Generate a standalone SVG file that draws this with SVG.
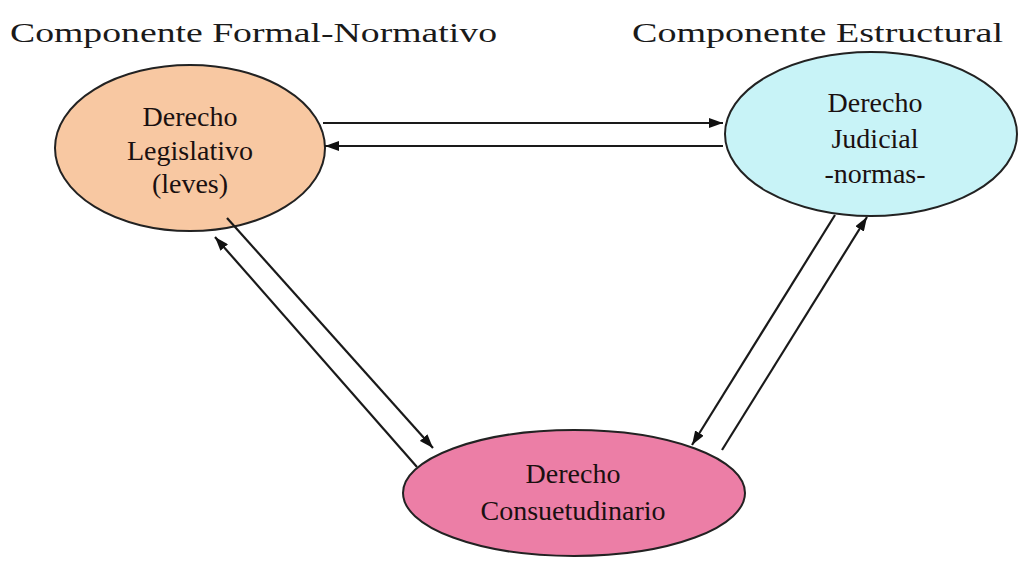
<svg xmlns="http://www.w3.org/2000/svg" width="1019" height="563" viewBox="0 0 1019 563">
<style>
.title{font-family:"Liberation Serif","DejaVu Serif",serif;font-size:28px;fill:#1a1a1a}
.lbl{font-family:"Liberation Serif","Times New Roman",serif;font-size:28px;fill:#1a1010;text-anchor:middle}
.node{stroke:#222;stroke-width:2}
.conn line{stroke:#1a1a1a;stroke-width:2.2;marker-end:url(#ah)}
</style>
<defs>
<marker id="ah" viewBox="0 0 14 10" refX="14" refY="5" markerWidth="14" markerHeight="10" orient="auto" markerUnits="userSpaceOnUse">
<path d="M0,0 L14,5 L0,10 Z" fill="#111"/>
</marker>
</defs>
<rect width="1019" height="563" fill="#fff"/>
<text class="title" x="10" y="42" textLength="487" lengthAdjust="spacingAndGlyphs">Componente Formal-Normativo</text>
<text class="title" x="632" y="42" textLength="371" lengthAdjust="spacingAndGlyphs">Componente Estructural</text>
<g id="legislativo">
<ellipse class="node" cx="190" cy="148" rx="135" ry="83" fill="#F8C8A2"/>
<text class="lbl" x="190" y="126">Derecho</text>
<text class="lbl" x="190" y="160">Legislativo</text>
<text class="lbl" x="190" y="193">(leves)</text>
</g>
<g id="judicial">
<ellipse class="node" cx="871" cy="134" rx="146" ry="82" fill="#C8F3F7"/>
<text class="lbl" x="875" y="112">Derecho</text>
<text class="lbl" x="875" y="148">Judicial</text>
<text class="lbl" x="875" y="183">-normas-</text>
</g>
<g id="consuetudinario">
<ellipse class="node" cx="574" cy="493" rx="171" ry="63" fill="#EC7EA6"/>
<text class="lbl" x="573" y="483">Derecho</text>
<text class="lbl" x="573" y="520">Consuetudinario</text>
</g>
<g id="connectors" class="conn">
<line x1="323" y1="123" x2="723" y2="123"/>
<line x1="723" y1="146" x2="325" y2="146"/>
<line x1="227" y1="218" x2="433" y2="448"/>
<line x1="417" y1="467" x2="215" y2="237"/>
<line x1="835" y1="215" x2="692" y2="445"/>
<line x1="722" y1="450" x2="867" y2="217"/>
</g>
</svg>
